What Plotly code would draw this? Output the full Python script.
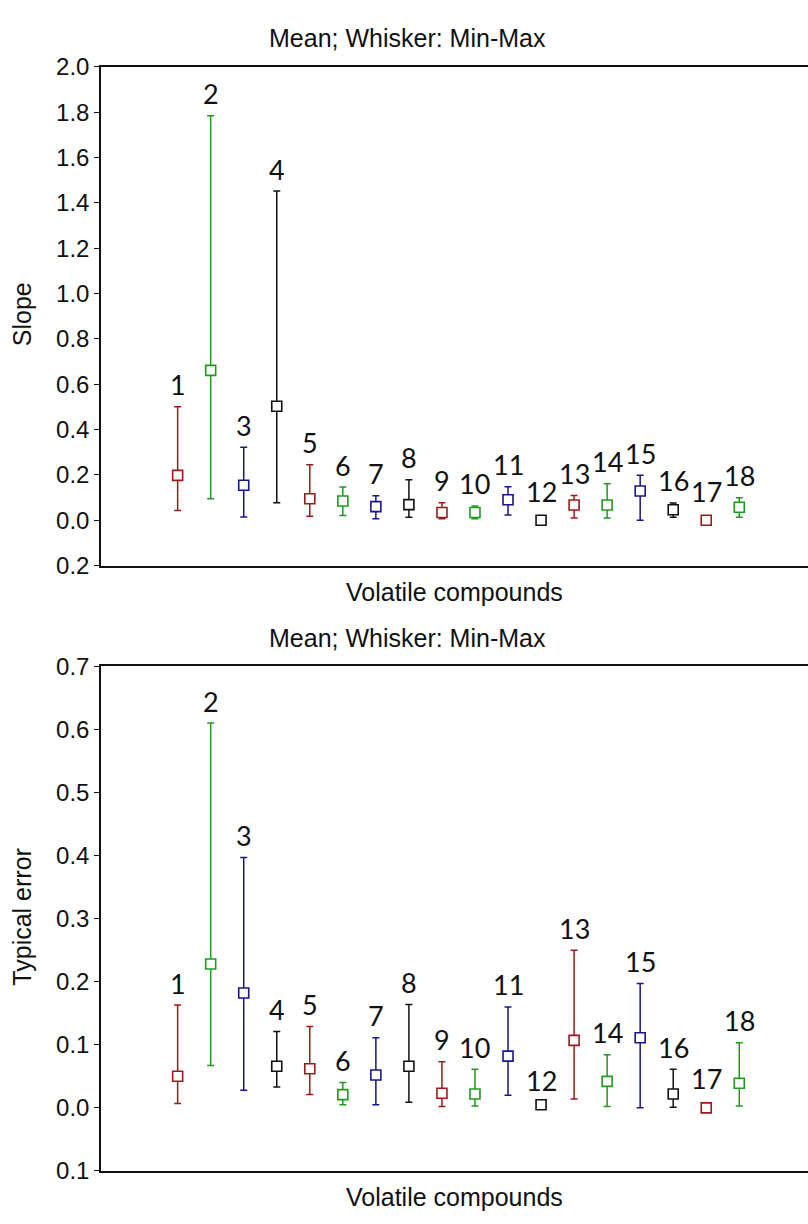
import plotly.graph_objects as go

# ---------------- data ----------------
compounds = [str(i) for i in range(1, 19)]
positions = list(range(1, 19))

slope_mean = [0.198, 0.661, 0.154, 0.503, 0.095, 0.085, 0.060, 0.069, 0.034,
              0.034, 0.090, 0.000, 0.067, 0.067, 0.129, 0.046, 0.000, 0.057]
slope_min = [0.043, 0.095, 0.014, 0.077, 0.018, 0.021, 0.006, 0.013, 0.006,
             0.007, 0.023, 0.000, 0.010, 0.010, 0.000, 0.013, 0.000, 0.013]
slope_max = [0.500, 1.784, 0.322, 1.452, 0.245, 0.146, 0.108, 0.178, 0.077,
             0.063, 0.148, 0.000, 0.109, 0.161, 0.198, 0.076, 0.000, 0.099]

err_mean = [0.050, 0.228, 0.182, 0.066, 0.062, 0.021, 0.052, 0.066, 0.023,
            0.022, 0.082, 0.005, 0.107, 0.042, 0.111, 0.022, 0.000, 0.039]
err_min = [0.007, 0.067, 0.028, 0.033, 0.021, 0.005, 0.005, 0.009, 0.002,
           0.003, 0.020, 0.002, 0.014, 0.002, 0.000, 0.001, 0.000, 0.003]
err_max = [0.163, 0.610, 0.397, 0.121, 0.129, 0.040, 0.111, 0.164, 0.073,
           0.061, 0.160, 0.009, 0.250, 0.084, 0.197, 0.061, 0.000, 0.103]

slope_tickvals = [-0.2, 0.0, 0.2, 0.4, 0.6, 0.8, 1.0, 1.2, 1.4, 1.6, 1.8, 2.0]
slope_ticktext = ["0.2", "0.0", "0.2", "0.4", "0.6", "0.8", "1.0", "1.2", "1.4", "1.6", "1.8", "2.0"]
err_tickvals = [-0.1, 0.0, 0.1, 0.2, 0.3, 0.4, 0.5, 0.6, 0.7]
err_ticktext = ["0.1", "0.0", "0.1", "0.2", "0.3", "0.4", "0.5", "0.6", "0.7"]

title_text = "Mean; Whisker: Min-Max"
x_title = "Volatile compounds"
y_titles = ["Slope", "Typical error"]

palette = ["#9E1A1A", "#1F9A1F", "#16168C", "#111111"]

# ---------------- figure ----------------
W, H = 808, 1224
fig = go.Figure()

panels = [
    dict(mean=slope_mean, lo=slope_min, hi=slope_max, xa="x", ya="y"),
    dict(mean=err_mean, lo=err_min, hi=err_max, xa="x2", ya="y2"),
]

annotations = []
for p in panels:
    for i, pos in enumerate(positions):
        col = palette[i % 4]
        m, lo, hi = p["mean"][i], p["lo"][i], p["hi"][i]
        fig.add_trace(go.Scatter(
            x=[pos], y=[m], xaxis=p["xa"], yaxis=p["ya"],
            mode="markers", showlegend=False, hoverinfo="skip",
            marker=dict(symbol="square", size=10, color="white",
                        line=dict(color=col, width=1.6)),
            error_y=dict(type="data", symmetric=False,
                         array=[hi - m], arrayminus=[m - lo],
                         color=col, thickness=1.5, width=3.5,
                         visible=(hi - lo) > 0),
        ))
        shift = 22 if hi > m else 29
        annotations.append(dict(
            x=pos, y=hi, xref=p["xa"], yref=p["ya"], text=compounds[i],
            showarrow=False, yanchor="middle", yshift=shift,
            font=dict(family="Lato, Open Sans, sans-serif", size=27, color="#111111"),
        ))

# layout geometry (pixels -> paper)
left_px, right_px = 101, 808
top1, bot1 = 54, 564
top2, bot2 = 667, 1183

def py(v):
    return 1 - v / H

axis_font = dict(family="Liberation Sans, Arial, sans-serif", size=24, color="#111111")
title_font = dict(family="Liberation Sans, Arial, sans-serif", size=25, color="#111111")

xr = [-1.32, 20.08]
common_x = dict(range=xr, showgrid=False, zeroline=False, showticklabels=False,
                ticks="", showline=True, linecolor="#111111", linewidth=1.5, mirror=True,
                domain=[left_px / W, right_px / W])
common_y = dict(showgrid=False, zeroline=False, showline=True, linecolor="#111111",
                linewidth=1.5, ticks="outside", ticklen=5, tickcolor="#111111",
                tickwidth=1, tickfont=axis_font, mirror=False)

fig.update_layout(
    width=W, height=H,
    margin=dict(l=0, r=0, t=0, b=0),
    plot_bgcolor="white", paper_bgcolor="white",
    xaxis=dict(**common_x, anchor="y"),
    yaxis=dict(**common_y, range=[-0.2, 2.0], tickvals=slope_tickvals, ticktext=slope_ticktext,
               domain=[py(bot1), py(top1)], anchor="x"),
    xaxis2=dict(**common_x, anchor="y2"),
    yaxis2=dict(**common_y, range=[-0.1, 0.7], tickvals=err_tickvals, ticktext=err_ticktext,
                domain=[py(bot2), py(top2)], anchor="x2"),
)

# titles as paper annotations
for (top, bot), yt in zip([(top1, bot1), (top2, bot2)], y_titles):
    annotations.append(dict(x=407 / W, y=py(top - 29), xref="paper", yref="paper",
                            text=title_text, showarrow=False, font=title_font,
                            xanchor="center", yanchor="middle"))
    annotations.append(dict(x=(left_px + right_px) / 2 / W, y=py(bot + 27), xref="paper",
                            yref="paper", text=x_title, showarrow=False, font=title_font,
                            xanchor="center", yanchor="middle"))
    annotations.append(dict(x=22 / W, y=py((top + bot) / 2 - 2), xref="paper", yref="paper",
                            text=yt, showarrow=False, font=title_font, textangle=-90,
                            xanchor="center", yanchor="middle"))

fig.update_layout(annotations=annotations)
fig.write_html("out.html")
